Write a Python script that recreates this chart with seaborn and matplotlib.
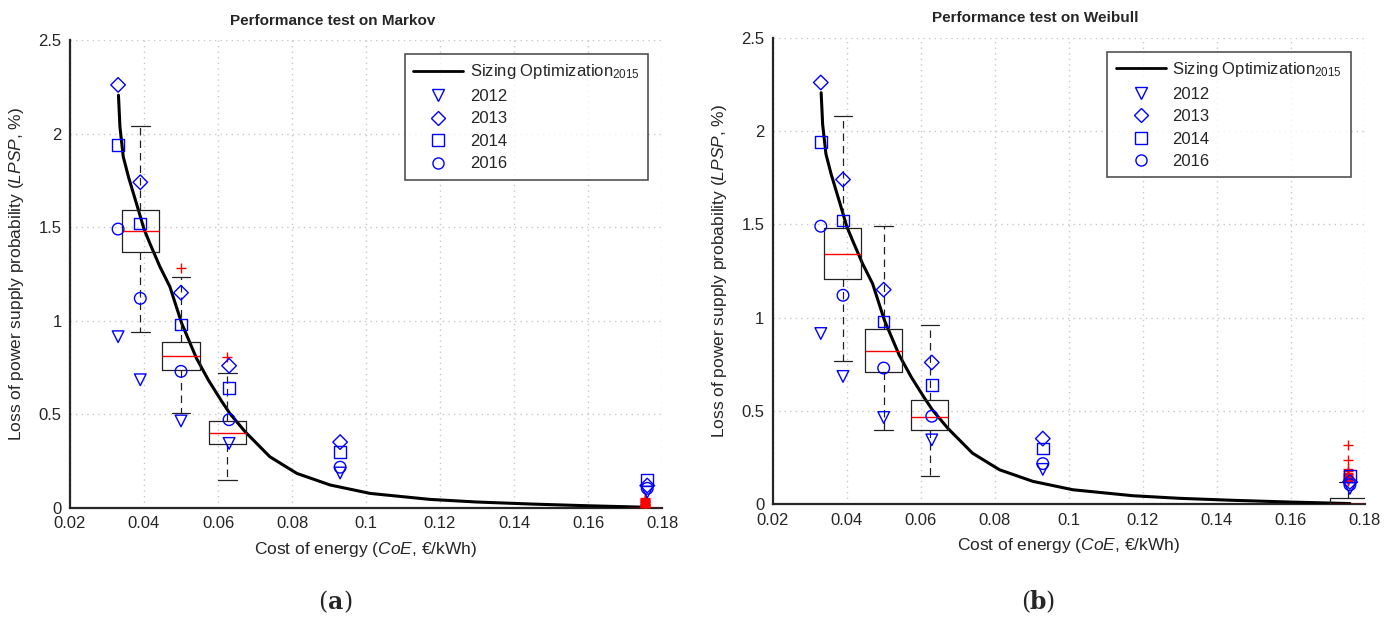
import numpy as np
import pandas as pd
import matplotlib
matplotlib.use("Agg")
import matplotlib.pyplot as plt
from matplotlib.lines import Line2D
from matplotlib.ticker import FuncFormatter
import seaborn as sns

# --- data ---
curve_x = [0.0331, 0.0335, 0.0344, 0.0358, 0.0385, 0.0400, 0.0416, 0.0443, 0.0470,
           0.0502, 0.0542, 0.0575, 0.0610, 0.0632, 0.0673, 0.0740, 0.0813, 0.0903,
           0.1011, 0.1173, 0.1300, 0.1450, 0.1600, 0.1760]
curve_y = [2.205, 2.036, 1.876, 1.769, 1.591, 1.490, 1.413, 1.289, 1.182,
           0.986, 0.799, 0.680, 0.570, 0.505, 0.408, 0.274, 0.185, 0.123,
           0.078, 0.046, 0.032, 0.021, 0.012, 0.004]

year_x = [0.033, 0.039, 0.050, 0.063, 0.093, 0.176]
years = ["2012", "2013", "2014", "2016"]
y2012 = [0.915, 0.685, 0.465, 0.345, 0.187, 0.085]
y2013 = [2.26, 1.74, 1.15, 0.76, 0.352, 0.12]
y2014 = [1.94, 1.52, 0.98, 0.64, 0.298, 0.15]
y2016 = [1.49, 1.12, 0.73, 0.472, 0.218, 0.105]
year_markers = {"2012": "v", "2013": "D", "2014": "s", "2016": "o"}

box_pos = [0.039, 0.050, 0.0625, 0.1755]

# Markov boxes: (whislo, q1, med, q3, whishi)
markov_stats = [(0.94, 1.37, 1.48, 1.59, 2.04),
                (0.51, 0.737, 0.81, 0.888, 1.235),
                (0.15, 0.34, 0.40, 0.465, 0.72),
                (0.0, 0.0, 0.0, 0.002, 0.0)]
markov_fliers = [[], [1.28], [0.805],
                 [0.055, 0.050, 0.045, 0.041, 0.038, 0.034, 0.030, 0.027, 0.024,
                  0.021, 0.018, 0.015, 0.012, 0.010, 0.008, 0.006, 0.004]]

# Weibull boxes
weibull_stats = [(0.77, 1.205, 1.34, 1.48, 2.08),
                 (0.40, 0.71, 0.82, 0.938, 1.49),
                 (0.152, 0.398, 0.47, 0.559, 0.96),
                 (0.0, 0.003, 0.003, 0.032, 0.118)]
weibull_fliers = [[], [], [],
                  [0.32, 0.237, 0.19, 0.178, 0.17, 0.163, 0.157, 0.151, 0.146,
                   0.141, 0.137, 0.133, 0.129, 0.125]]

titles = ["Performance test on Markov", "Performance test on Weibull"]
captions = ["a", "b"]

# --- style ---
sns.set_style("white")
plt.rcParams["font.family"] = ["Liberation Sans", "DejaVu Sans"]
plt.rcParams["mathtext.fontset"] = "custom"
plt.rcParams["mathtext.rm"] = "Liberation Sans"
plt.rcParams["mathtext.it"] = "Liberation Sans:italic"
plt.rcParams["mathtext.bf"] = "Liberation Sans:bold"

dark = "#262626"
blue = "#0000ff"

df = pd.DataFrame({
    "x": year_x * 4,
    "y": y2012 + y2013 + y2014 + y2016,
    "year": sum([[yr] * len(year_x) for yr in years], []),
})

fig = plt.figure(figsize=(13.97, 6.19), dpi=100)
ax_pos = [[0.0501, 0.1793, 0.4238, 0.7561],
          [0.5531, 0.1853, 0.4238, 0.7538]]


def draw_panel(ax, stats, fliers, title):
    bxp = []
    for (lo, q1, med, q3, hi), fl in zip(stats, fliers):
        bxp.append({"whislo": lo, "q1": q1, "med": med, "q3": q3,
                    "whishi": hi, "fliers": fl})
    ax.bxp(bxp, positions=box_pos, widths=0.01, capwidths=0.005,
           manage_ticks=False, showfliers=True, zorder=3,
           boxprops=dict(color="#222222", lw=0.9),
           medianprops=dict(color="red", lw=1.0),
           whiskerprops=dict(color="#222222", lw=0.9, ls=(0, (6, 4))),
           capprops=dict(color="#222222", lw=0.9),
           flierprops=dict(marker="+", markeredgecolor="red", markersize=7,
                           markeredgewidth=1.0, linestyle="none"))

    sns.lineplot(x=curve_x, y=curve_y, ax=ax, color="black", lw=2.2,
                 sort=False, estimator=None, legend=False, zorder=2.6)

    for yr in years:
        sub = df[df["year"] == yr]
        sns.scatterplot(data=sub, x="x", y="y", ax=ax, marker=year_markers[yr],
                        s=70 if yr != "2013" else 55, facecolor="none",
                        edgecolor=blue, linewidth=1.0, legend=False, zorder=5)

    ax.set_xlim(0.02, 0.18)
    ax.set_ylim(0, 2.5)
    ax.set_xticks(np.arange(0.02, 0.181, 0.02))
    ax.set_yticks(np.arange(0, 2.51, 0.5))
    ax.xaxis.set_major_formatter(FuncFormatter(lambda v, p: f"{v:g}"))
    ax.yaxis.set_major_formatter(FuncFormatter(lambda v, p: f"{v:g}"))
    ax.grid(True, ls=(0, (1, 3)), color="#c8c8c8", lw=1)
    ax.set_axisbelow(True)
    for s in ["top", "right"]:
        ax.spines[s].set_visible(False)
    for s in ["left", "bottom"]:
        ax.spines[s].set_color(dark)
        ax.spines[s].set_linewidth(1.6)
    ax.tick_params(direction="in", length=5, width=1.2, colors=dark,
                   labelsize=12, labelcolor=dark, pad=6)
    ax.set_xlabel(r"Cost of energy ($\mathit{CoE}$, €/kWh)", fontsize=12.5,
                  color=dark, labelpad=6)
    ax.set_ylabel(r"Loss of power supply probability ($\mathit{LPSP}$, %)",
                  fontsize=12.5, color=dark, labelpad=9)
    ax.set_title(title, fontsize=11, fontweight="bold", pad=11)
    ax.title.set_x(0.443)

    handles = [Line2D([], [], color="black", lw=2)]
    for yr in years:
        handles.append(Line2D([], [], ls="none", marker=year_markers[yr],
                              mfc="none", mec=blue, mew=1.0,
                              ms=8 if yr != "2013" else 7))
    labels = [r"Sizing Optimization$_{2015}$"] + years
    leg = ax.legend(handles, labels, loc="upper right",
                    bbox_to_anchor=(0.976, 0.97), borderaxespad=0,
                    fontsize=12, frameon=True, fancybox=False,
                    handlelength=3.0, handletextpad=0.4, labelspacing=0.45,
                    borderpad=0.5)
    leg.get_frame().set_edgecolor(dark)
    leg.get_frame().set_linewidth(1.2)


all_stats = [markov_stats, weibull_stats]
all_fliers = [markov_fliers, weibull_fliers]
for i in range(2):
    ax = fig.add_axes(ax_pos[i])
    draw_panel(ax, all_stats[i], all_fliers[i], titles[i])
    cx = ax_pos[i][0] + ax_pos[i][2] * 0.448
    fig.text(cx, 0.008, captions[i], ha="center", va="bottom",
             family="DejaVu Serif", fontweight="bold", fontsize=17)
    fig.text(cx - 0.0055, 0.008, "(", ha="right", va="bottom",
             family="DejaVu Serif", fontsize=17)
    fig.text(cx + 0.0055, 0.008, ")", ha="left", va="bottom",
             family="DejaVu Serif", fontsize=17)

fig.savefig("out.png", dpi=100)
